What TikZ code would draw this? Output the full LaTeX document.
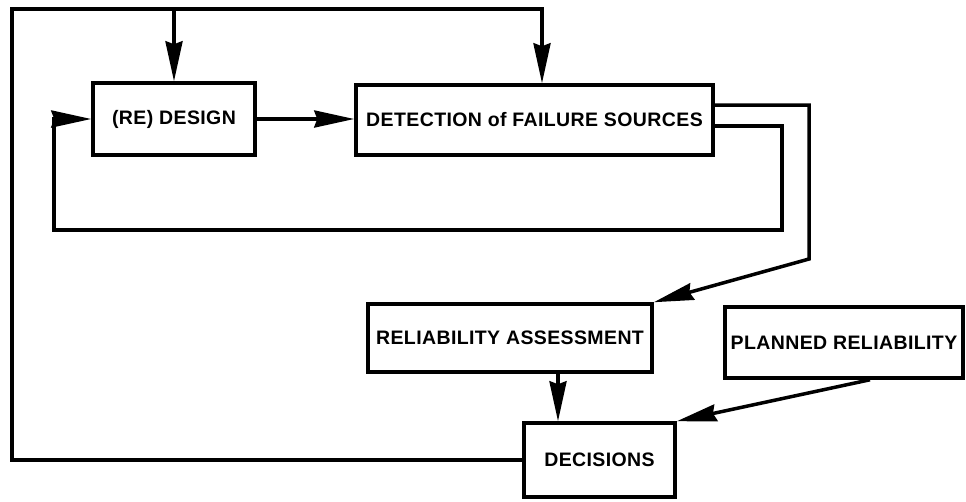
\documentclass[tikz,border=0pt]{standalone}
\usepackage{fontspec}
\newfontfamily\chartfont{Liberation Sans}[LetterSpace=2]
\usetikzlibrary{arrows.meta,positioning}
\tikzset{
  block/.style={draw,line width=3.5pt,inner sep=0pt,align=center,
                font=\chartfont\bfseries\fontsize{19.5}{22}\selectfont},
  wire/.style={line width=3.5pt},
  flow/.style={wire,-{Stealth[length=40pt,width=17pt,inset=3pt]}},
}

\begin{document}
\begin{tikzpicture}[x=1pt,y=-1pt]
  \useasboundingbox (0,0) rectangle (966,501);
  \node[block,minimum width=162pt,minimum height=72pt](design) at (174,119){(RE) DESIGN};
  \node[block,minimum width=357pt,minimum height=70pt](detect) at (534.5,120){DETECTION of FAILURE SOURCES};
  \node[block,minimum width=284pt,minimum height=68pt](assess) at (510,338){RELIABILITY ASSESSMENT};
  \node[block,minimum width=238pt,minimum height=71pt](planned) at (844,342.5){PLANNED RELIABILITY};
  \node[block,minimum width=151pt,minimum height=74pt](decide) at (599.5,460){DECISIONS};
  % outer feedback from the decisions
  \coordinate (ul) at (12,9);
  \draw[flow] (decide.west) -| (ul) -| ([xshift=7.5pt]detect.north);
  \draw[flow] (design.north |- ul) -- (design.north);
  \draw[flow] (design.east) -- (design.east -| detect.west);
  % inner redesign loop
  \draw[flow] ([yshift=-6pt]detect.east) -- (782,126) -- (782,230) -- (54,230) |- (design.west);
  \draw[flow] ([yshift=15pt]detect.east) -- (809,105) -- (809,259) -- (assess.north east);
  \draw[flow] ([xshift=48pt]assess.south) -- ([xshift=48pt]assess.south |- decide.north);
  \draw[flow] ([xshift=26pt]planned.south) -- (decide.north east);
\end{tikzpicture}
\end{document}
